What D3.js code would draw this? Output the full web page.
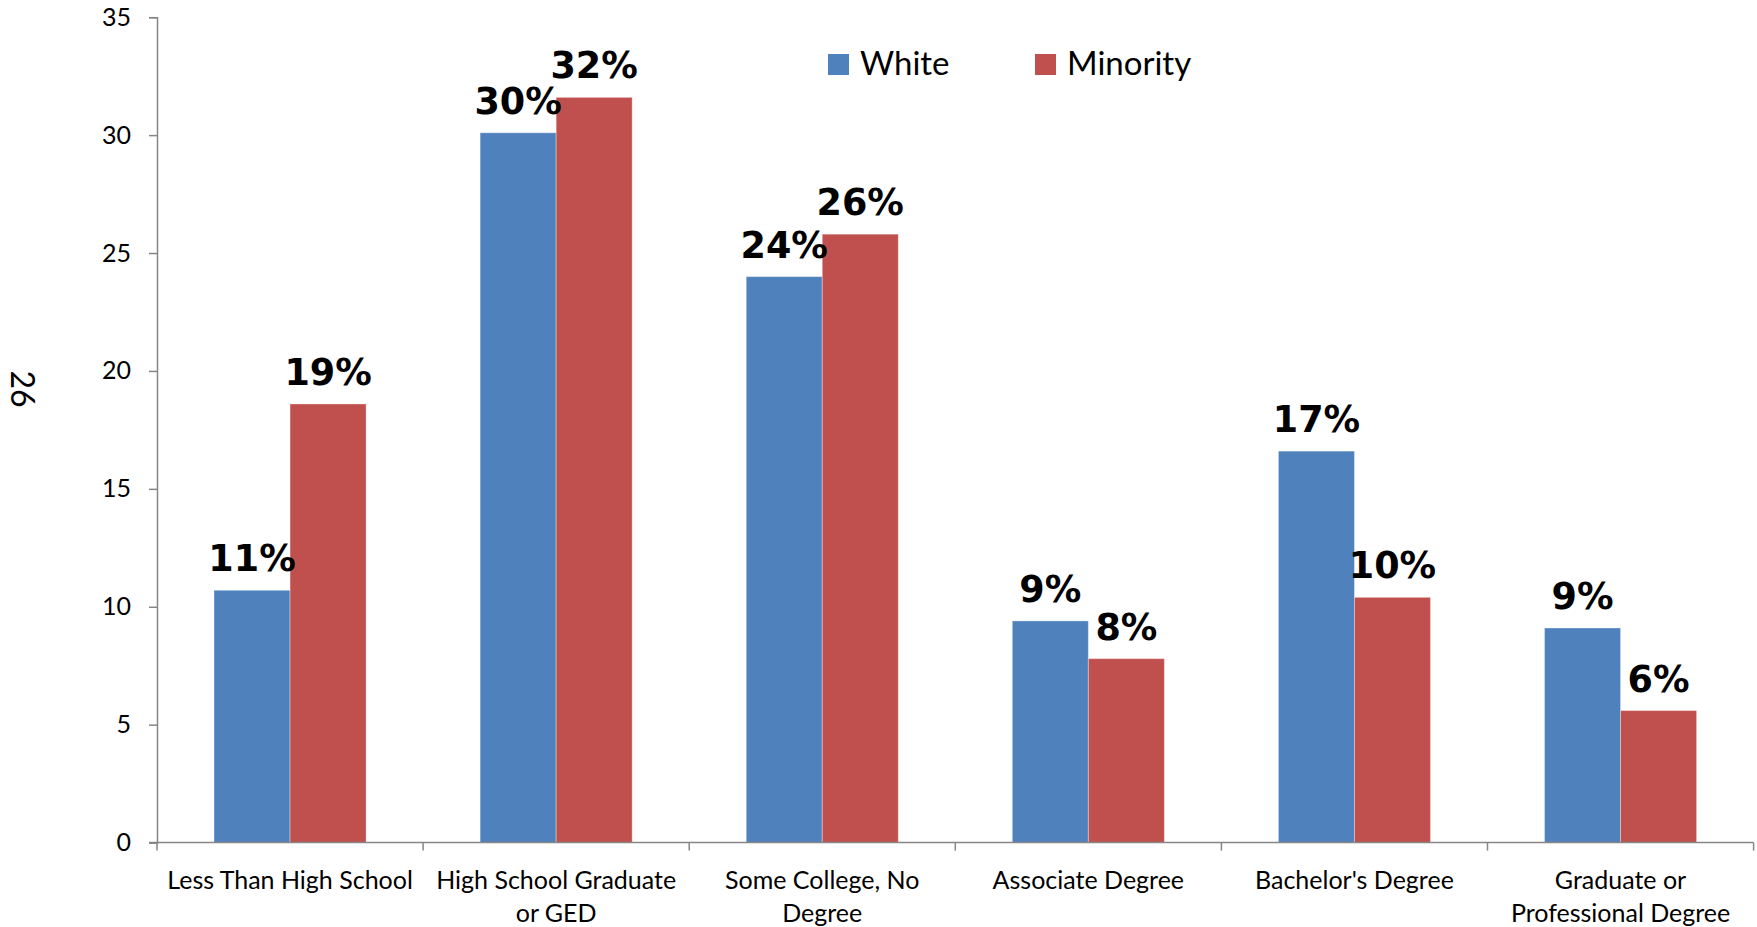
<!DOCTYPE html>
<html>
<head>
<meta charset="utf-8">
<script src="https://cdn.jsdelivr.net/npm/d3@7"></script>
<style>
  html, body { margin: 0; padding: 0; background: #ffffff; }
  svg { display: block; }
</style>
</head>
<body>
<svg id="chart" width="1757" height="927"></svg>
<script>
// ---- data ----
const categories = [
  "Less Than High School",
  "High School Graduate or GED",
  "Some College, No Degree",
  "Associate Degree",
  "Bachelor's Degree",
  "Graduate or Professional Degree"
];
const categoryLines = [
  ["Less Than High School"],
  ["High School Graduate", "or GED"],
  ["Some College, No", "Degree"],
  ["Associate Degree"],
  ["Bachelor's Degree"],
  ["Graduate or", "Professional Degree"]
];
const seriesNames = ["White", "Minority"];
const whiteValues = [10.7, 30.1, 24.0, 9.4, 16.6, 9.1];
const minorityValues = [18.6, 31.6, 25.8, 7.8, 10.4, 5.6];
const whiteLabels = ["11%", "30%", "24%", "9%", "17%", "9%"];
const minorityLabels = ["19%", "32%", "26%", "8%", "10%", "6%"];
const yTicks = [0, 5, 10, 15, 20, 25, 30, 35];
const pageNumber = "26";

// ---- styles ----
const colors = { White: "#4F81BD", Minority: "#C0504D" };
const axisColor = "#868686";
const bodyFont = "Lato, 'Open Sans', sans-serif";
const labelFont = "'DejaVu Sans', sans-serif";

const svg = d3.select("#chart");
const plotLeft = 157, plotRight = 1753.6, plotTop = 17.2, plotBottom = 842.6;

const x = d3.scaleBand().domain(categories).range([plotLeft, plotRight]).paddingInner(0).paddingOuter(0);
const x1 = d3.scaleBand().domain(seriesNames).range([0, x.bandwidth()]).paddingInner(0).paddingOuter(0.75);
const y = d3.scaleLinear().domain([0, 35]).range([plotBottom, plotTop]);

const rows = categories.map((c, i) => ({
  cat: c,
  vals: [
    { s: "White", v: whiteValues[i], lab: whiteLabels[i] },
    { s: "Minority", v: minorityValues[i], lab: minorityLabels[i] }
  ]
}));

// bars
const g = svg.append("g");
const groups = g.selectAll("g.cat").data(rows).enter().append("g")
  .attr("transform", d => `translate(${x(d.cat)},0)`);
groups.selectAll("rect").data(d => d.vals).enter().append("rect")
  .attr("x", d => x1(d.s))
  .attr("y", d => y(d.v))
  .attr("width", x1.bandwidth())
  .attr("height", d => y(0) - y(d.v))
  .attr("fill", d => colors[d.s])
  .attr("stroke", "rgba(255,255,255,0.35)")
  .attr("stroke-width", 1);

// data labels
groups.selectAll("text.dl").data(d => d.vals).enter().append("text")
  .attr("class", "dl")
  .attr("x", d => x1(d.s) + x1.bandwidth() / 2)
  .attr("y", d => y(d.v) - 19)
  .attr("text-anchor", "middle")
  .attr("font-family", labelFont)
  .attr("font-weight", "bold")
  .attr("font-size", 36.5)
  .attr("fill", "#000")
  .text(d => d.lab);

// y axis
const yAxis = d3.axisLeft(y).tickValues(yTicks).tickSize(8).tickPadding(18).tickFormat(d3.format("d"));
const yg = svg.append("g").attr("transform", `translate(${plotLeft},0)`).call(yAxis);
yg.select(".domain").attr("stroke", axisColor).attr("stroke-width", 1.5);
yg.selectAll(".tick line").attr("stroke", axisColor).attr("stroke-width", 1.5);
yg.selectAll(".tick text").attr("font-family", bodyFont).attr("font-size", 25).attr("fill", "#000");

// x axis: line + boundary ticks
const boundaries = categories.map(c => x(c)).concat([plotRight]);
const xg = svg.append("g");
xg.append("line").attr("x1", plotLeft - 8).attr("x2", plotRight).attr("y1", plotBottom).attr("y2", plotBottom)
  .attr("stroke", axisColor).attr("stroke-width", 1.5);
xg.selectAll("line.bt").data(boundaries).enter().append("line")
  .attr("x1", d => d).attr("x2", d => d).attr("y1", plotBottom).attr("y2", plotBottom + 8)
  .attr("stroke", axisColor).attr("stroke-width", 1.5);

// category labels
const cl = svg.append("g").selectAll("text").data(categories).enter().append("text")
  .attr("x", d => x(d) + x.bandwidth() / 2)
  .attr("y", 888.7)
  .attr("text-anchor", "middle")
  .attr("font-family", bodyFont)
  .attr("font-size", 25)
  .attr("fill", "#000");
cl.each(function(d, i) {
  const t = d3.select(this);
  categoryLines[i].forEach((ln, k) => {
    t.append("tspan").attr("x", x(d) + x.bandwidth() / 2).attr("y", 888.7 + k * 33.3).text(ln);
  });
});

// legend
const legendPos = [{ s: "White", bx: 828, tx: 860 }, { s: "Minority", bx: 1035, tx: 1067 }];
const lg = svg.append("g");
lg.selectAll("rect").data(legendPos).enter().append("rect")
  .attr("x", d => d.bx).attr("y", 54).attr("width", 21).attr("height", 21)
  .attr("fill", d => colors[d.s]);
lg.selectAll("text").data(legendPos).enter().append("text")
  .attr("x", d => d.tx).attr("y", 75)
  .attr("font-family", bodyFont).attr("font-size", 33).attr("fill", "#000")
  .text(d => d.s);

// page number (rotated)
svg.append("text")
  .attr("transform", "translate(11,389) rotate(90)")
  .attr("text-anchor", "middle")
  .attr("font-family", bodyFont).attr("font-size", 32).attr("fill", "#000")
  .text(pageNumber);
</script>
</body>
</html>
